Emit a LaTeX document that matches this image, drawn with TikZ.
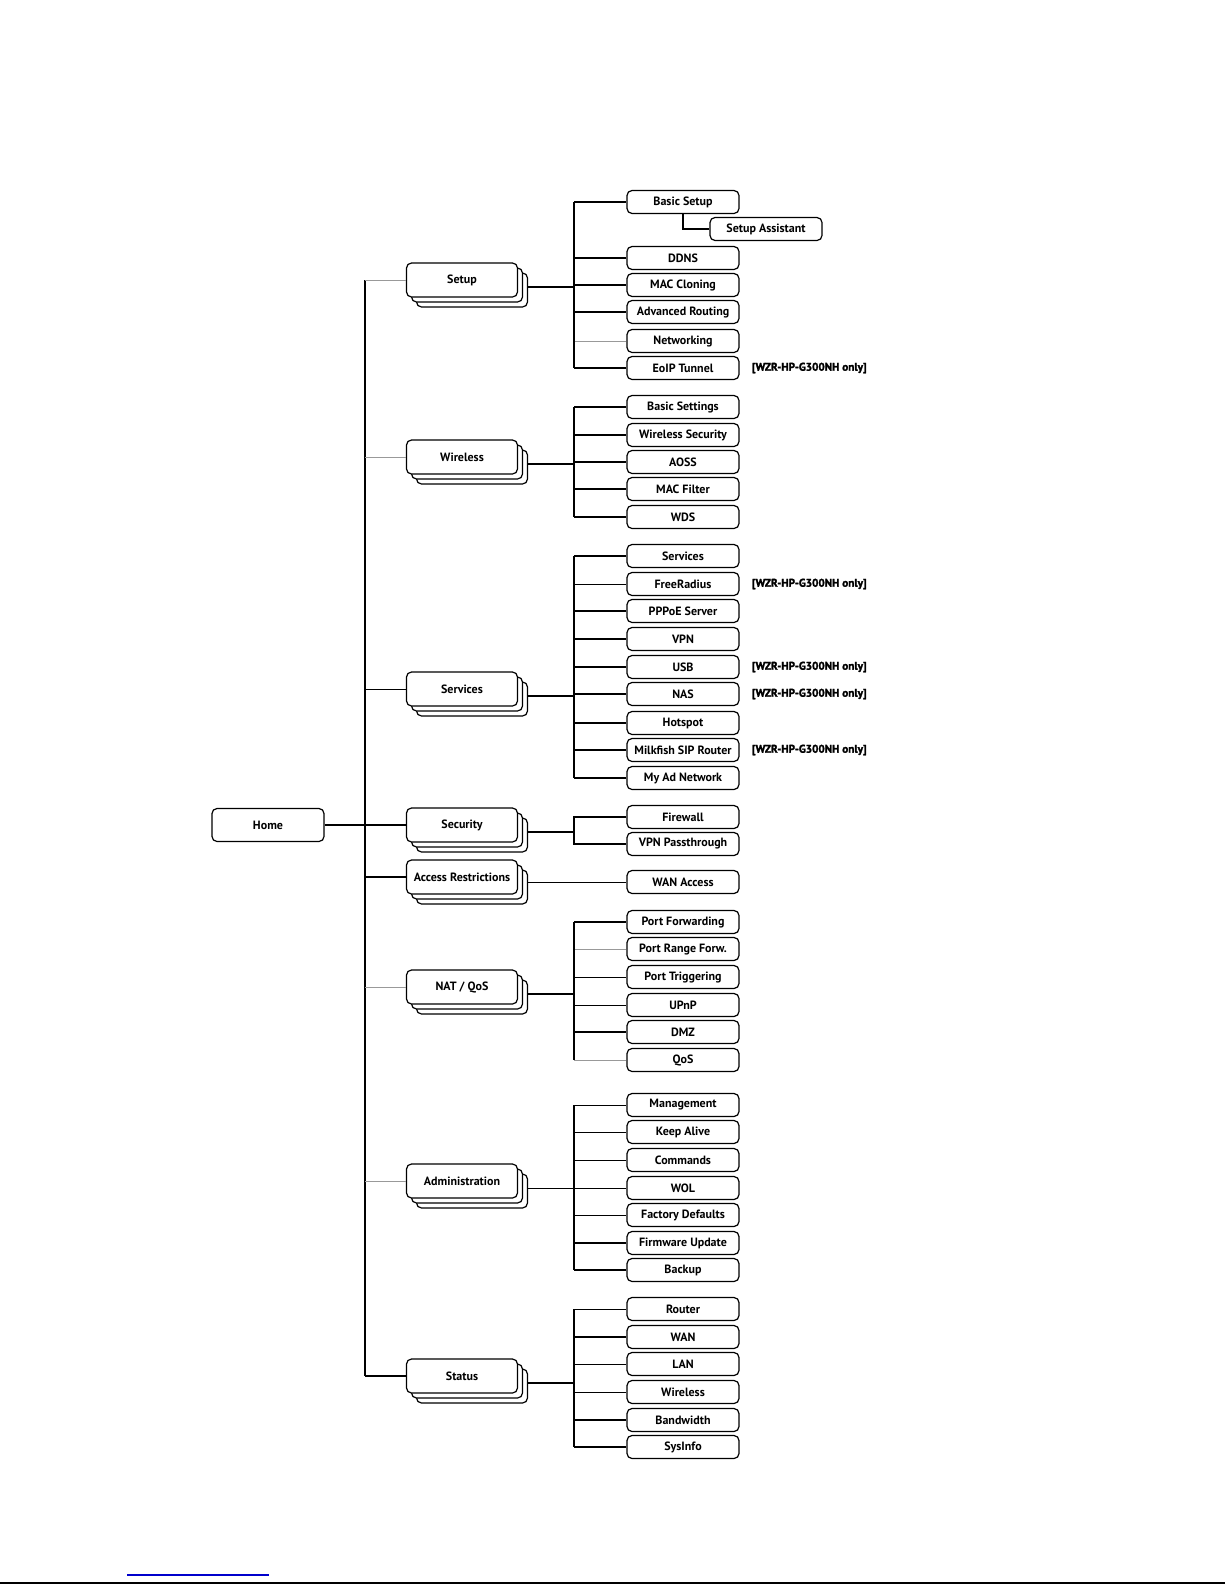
\documentclass[tikz,border=0pt]{standalone}
\usepackage{fontspec}
\setmainfont{PT Sans}
\newfontfamily\notefont{PT Sans}[BoldFeatures={FakeBold=2}]
\usetikzlibrary{shadows}

\tikzset{
    leaf/.style={draw,line width=0.6pt,rounded corners=2.5pt,fill=white,
        minimum width=56pt,minimum height=11.5pt,inner sep=0pt,
        font=\fontsize{6}{7}\selectfont\bfseries},
    menu/.style={leaf,minimum width=55.5pt,minimum height=17pt,
        double copy shadow={shadow xshift=2.5pt,shadow yshift=-2.5pt}},
    link/.style={line width=1pt},
    thin link/.style={line width=0.5pt},
    grey link/.style={line width=0.5pt,black!40},
    note/.style={anchor=west,inner sep=0pt,
        font=\notefont\fontsize{5.6}{7}\selectfont\bfseries}
}

\begin{document}
\begin{tikzpicture}[x=0.5pt,y=-0.5pt]
    \useasboundingbox (0,0) rectangle (1225,1585);

    % Home and first level.
    \node[leaf,minimum height=16.5pt] (home) at (268,825) {Home};
    \node[menu] (m-setup) at (462,280) {Setup};
    \node[menu] (m-wireless) at (462,457) {Wireless};
    \node[menu] (m-services) at (462,689) {Services};
    \node[menu] (m-security) at (462,825) {Security};
    \node[menu] (m-access) at (462,877) {Access Restrictions};
    \node[menu] (m-nat) at (462,987) {NAT / QoS};
    \node[menu] (m-admin) at (462,1181) {Administration};
    \node[menu] (m-status) at (462,1376) {Status};

    \coordinate (trunk) at (365,825);
    \draw[link] (home) -- (trunk);
    \draw[link] (trunk |- m-setup.west) -- (trunk |- m-status.west);
    \draw[grey link] (trunk |- m-setup.west) -- (m-setup.west);
    \draw[grey link] (trunk |- m-wireless.west) -- (m-wireless.west);
    \draw[thin link] (trunk |- m-services.west) -- (m-services.west);
    \draw[link] (trunk |- m-security.west) -- (m-security.west);
    \draw[link] (trunk |- m-access.west) -- (m-access.west);
    \draw[grey link] (trunk |- m-nat.west) -- (m-nat.west);
    \draw[grey link] (trunk |- m-admin.west) -- (m-admin.west);
    \draw[link] (trunk |- m-status.west) -- (m-status.west);

    % Setup.
    \coordinate (b-setup) at (574,287);
    \draw[link] ([xshift=5pt,yshift=-3.5pt]m-setup.east) -- (b-setup);
    \foreach \yy/\nm/\txt/\st in {202/basic/Basic Setup/link,
        258/ddns/DDNS/link,285/mac/MAC Cloning/link,
        312/routing/Advanced Routing/link,341/networking/Networking/grey link,
        368/eoip/EoIP Tunnel/link}{
        \node[leaf] (\nm) at (683,\yy) {\txt};
        \draw[\st] (b-setup |- \nm.west) -- (\nm.west);
    }
    \draw[link] (b-setup |- basic.west) -- (b-setup |- eoip.west);
    \node[leaf] (assist) at (766,229) {Setup Assistant};
    \draw[link] (basic.south) |- (assist.west);

    % Wireless.
    \coordinate (b-wireless) at (574,464);
    \draw[link] ([xshift=5pt,yshift=-3.5pt]m-wireless.east) -- (b-wireless);
    \foreach \yy/\nm/\txt/\st in {407/basicset/Basic Settings/link,
        435/wsec/Wireless Security/link,462/aoss/AOSS/link,
        489/macfilter/MAC Filter/link,517/wds/WDS/link}{
        \node[leaf] (\nm) at (683,\yy) {\txt};
        \draw[\st] (b-wireless |- \nm.west) -- (\nm.west);
    }
    \draw[link] (b-wireless |- basicset.west) -- (b-wireless |- wds.west);

    % Services.
    \coordinate (b-services) at (574,696);
    \draw[link] ([xshift=5pt,yshift=-3.5pt]m-services.east) -- (b-services);
    \foreach \yy/\nm/\txt/\st in {556/serv/Services/link,
        584/radius/FreeRadius/thin link,611/pppoe/PPPoE Server/link,
        639/vpn/VPN/link,667/usb/USB/link,694/nas/NAS/link,
        723/hotspot/Hotspot/link,750/milkfish/Milkfish SIP Router/link,
        778/adnet/My Ad Network/link}{
        \node[leaf] (\nm) at (683,\yy) {\txt};
        \draw[\st] (b-services |- \nm.west) -- (\nm.west);
    }
    \draw[link] (b-services |- serv.west) -- (b-services |- adnet.west);

    % Security and Access Restrictions.
    \coordinate (b-security) at (574,832);
    \draw[link] ([xshift=5pt,yshift=-3.5pt]m-security.east) -- (b-security);
    \node[leaf] (firewall) at (683,817) {Firewall};
    \node[leaf] (vpnpass) at (683,844) {VPN Passthrough};
    \draw[link] (firewall.west) -| (b-security) |- (vpnpass.west);
    \node[leaf] (wanacc) at (683,882) {WAN Access};
    \draw[thin link] ([xshift=5pt]m-access.east |- wanacc.west)
        -- (wanacc.west);

    % NAT / QoS.
    \coordinate (b-nat) at (574,994);
    \draw[link] ([xshift=5pt,yshift=-3.5pt]m-nat.east) -- (b-nat);
    \foreach \yy/\nm/\txt/\st in {922/portfw/Port Forwarding/link,
        949/portrange/Port Range Forw./grey link,
        977/porttrig/Port Triggering/thin link,1005/upnp/UPnP/thin link,
        1032/dmz/DMZ/link,1060/qos/QoS/grey link}{
        \node[leaf] (\nm) at (683,\yy) {\txt};
        \draw[\st] (b-nat |- \nm.west) -- (\nm.west);
    }
    \draw[link] (b-nat |- portfw.west) -- (b-nat |- qos.west);

    % Administration.
    \coordinate (b-admin) at (574,1188);
    \draw[thin link] ([xshift=5pt,yshift=-3.5pt]m-admin.east) -- (b-admin);
    \foreach \yy/\nm/\txt/\st in {1105/manage/Management/thin link,
        1132/keepalive/Keep Alive/thin link,1160/commands/Commands/thin link,
        1188/wol/WOL/thin link,1215/factory/Factory Defaults/thin link,
        1243/firmware/Firmware Update/link,1270/backup/Backup/link}{
        \node[leaf] (\nm) at (683,\yy) {\txt};
        \draw[\st] (b-admin |- \nm.west) -- (\nm.west);
    }
    \draw[link] (b-admin |- manage.west) -- (b-admin |- backup.west);

    % Status.
    \coordinate (b-status) at (574,1383);
    \draw[link] ([xshift=5pt,yshift=-3.5pt]m-status.east) -- (b-status);
    \foreach \yy/\nm/\txt/\st in {1309/router/Router/thin link,
        1337/wan/WAN/link,1364/lan/LAN/thin link,
        1392/s-wireless/Wireless/thin link,1420/bandwidth/Bandwidth/link,
        1447/sysinfo/SysInfo/link}{
        \node[leaf] (\nm) at (683,\yy) {\txt};
        \draw[\st] (b-status |- \nm.west) -- (\nm.west);
    }
    \draw[link] (b-status |- router.west) -- (b-status |- sysinfo.west);

    % Model notes.
    \foreach \nm in {eoip,radius,usb,nas,milkfish}{
        \node[note] (note-\nm) at ([xshift=6pt]\nm.east)
            {[WZR-HP-G300NH only]};
    }

    % Page foot.
    \draw[blue!80!black,line width=0.6pt] (127,1575) -- (269,1575);
    \draw[line width=0.8pt] (0,1583) -- (1225,1583);
\end{tikzpicture}
\end{document}
